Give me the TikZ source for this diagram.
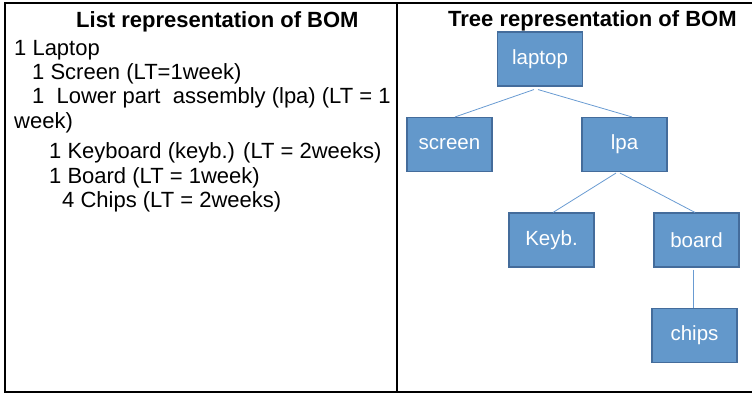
\documentclass[tikz,border=0pt]{standalone}
\usepackage{fontspec}
\setmainfont{Liberation Sans}
\usetikzlibrary{calc}
\definecolor{boxfill}{RGB}{99,152,203}
\definecolor{boxedge}{RGB}{68,108,155}
\definecolor{linkcol}{RGB}{105,155,210}
\tikzset{
  part/.style={draw=boxedge, fill=boxfill, line width=1.1pt, minimum width=85pt, minimum height=54pt,
    inner sep=0pt, text=white, font=\fontsize{20.5}{24}\selectfont},
  link/.style={draw=linkcol, line width=0.8pt},
  frame/.style={draw=black, line width=1.3pt},
  listline/.style={anchor=base west, inner sep=0pt, font=\fontsize{22}{24}\selectfont},
  ttl/.style={anchor=base west, inner sep=0pt, font=\bfseries\fontsize{22}{26}\selectfont}
}
\begin{document}
\begin{tikzpicture}[x=1pt,y=-1pt]
\useasboundingbox (0,0) rectangle (752,394);
% frame
\coordinate (tl) at (5,3);
\coordinate (tr) at (752,3);
\coordinate (bl) at (5,392);
\coordinate (br) at (752,392);
\coordinate (dt) at (397,3);
\coordinate (db) at (397,392);
\draw[frame] (tr) -- (tl) -- (bl) -- (br);
\draw[frame] (dt) -- (db);
% titles
\node[ttl] (t1) at (76,27) {List representation of BOM};
\node[ttl] (t2) at (448,26) {Tree representation of BOM};
% list
\node[listline] (l1) at (14,55) {1 Laptop};
\node[listline] (l2) at (32,79) {1 Screen (LT=1week)};
\node[listline] (l3) at (32,103) {1\ \ Lower part\ \ assembly (lpa) (LT = 1};
\node[listline] (l4) at (14,128) {week)};
\node[listline] (l5) at (49,158) {1 Keyboard (keyb.) (LT = 2weeks)};
\node[listline] (l6) at (49,183) {1 Board (LT = 1week)};
\node[listline] (l7) at (62,207) {4 Chips (LT = 2weeks)};
% tree
\node[part] (laptop) at (540,59) {laptop};
\node[part] (screen) at (449.5,144.5) {screen};
\node[part] (lpa) at (624.5,144.5) {lpa};
\node[part] (keyb) at (551.5,240) {Keyb.};
\node[part] (board) at (696.5,240) {board};
\node[part] (chips) at (694.5,335.5) {chips};
\draw[link] ($(laptop.south)+(-6,3)$) -- ($(screen.north)+(5.5,0)$);
\draw[link] ($(laptop.south)+(-2,3)$) -- ($(lpa.north)+(7.5,0)$);
\draw[link] ($(lpa.south)+(-8.5,1)$) -- ($(keyb.north)+(1.5,0)$);
\draw[link] ($(lpa.south)+(-4.5,1)$) -- ($(board.north)+(-1.5,0)$);
\draw[link] ($(board.south)+(-3.5,2)$) -- ($(chips.north)+(-1.5,0)$);
\end{tikzpicture}
\end{document}
